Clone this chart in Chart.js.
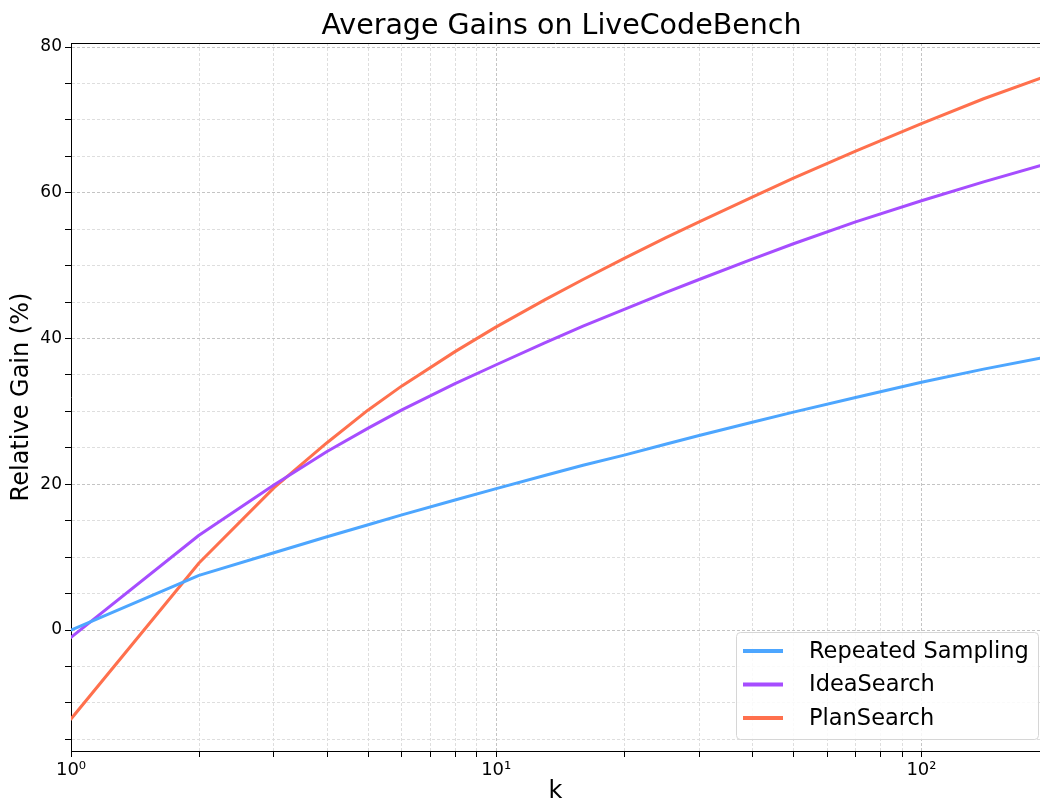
<!DOCTYPE html>
<html>
<head>
<meta charset="utf-8">
<script src="https://cdn.jsdelivr.net/npm/chart.js@4/dist/chart.umd.min.js"></script>
<style>
  html, body { margin: 0; padding: 0; background: #fff; }
  #wrap { width: 1040px; height: 806px; }
</style>
</head>
<body>
<div id="wrap"><canvas id="gains"></canvas></div>
<script>
// values (k on a log axis)
const kValues = [1, 2, 3, 4, 5, 6, 8, 10, 13, 16, 20, 25, 30, 40, 50, 70, 100, 140, 190];
const repeatedSampling = [0, 7.5, 10.6, 12.8, 14.45, 15.8, 17.85, 19.4, 21.2, 22.6, 24.0, 25.5, 26.7, 28.5, 29.9, 31.9, 34.0, 35.8, 37.3];
const ideaSearch = [-1.0, 13.0, 19.9, 24.5, 27.7, 30.2, 33.8, 36.4, 39.4, 41.7, 44.0, 46.3, 48.1, 50.9, 53.0, 56.0, 58.9, 61.5, 63.7];
const planSearch = [-12.2, 9.2, 19.5, 25.7, 30.2, 33.5, 38.2, 41.6, 45.3, 48.1, 51.0, 53.8, 56.0, 59.4, 62.0, 65.7, 69.5, 72.9, 75.7];

const seriesNames = ["Repeated Sampling", "IdeaSearch", "PlanSearch"];
const seriesColors = ["#4da6ff", "#a64dff", "#ff704d"];
const chartTitle = "Average Gains on LiveCodeBench";

// tick positions
const xTicks = [1, 2, 3, 4, 5, 6, 7, 8, 9, 10, 20, 30, 40, 50, 60, 70, 80, 90, 100];
const xLabels = { 1: "10\u2070", 10: "10\u00b9", 100: "10\u00b2" };
const yTicks = [-15, -10, -5, 0, 5, 10, 15, 20, 25, 30, 35, 40, 45, 50, 55, 60, 65, 70, 75, 80];

const font = "'DejaVu Sans', sans-serif";

function toPoints(vals) {
  return kValues.map((k, i) => ({ x: k, y: vals[i] }));
}

// title over the plot area, top spine and the legend box, matplotlib style
const framePlugin = {
  id: 'frame',
  afterDraw(chart) {
    const ctx = chart.ctx;
    const a = chart.chartArea;
    ctx.save();
    ctx.fillStyle = '#000';
    ctx.font = "28.5px " + font;
    ctx.textAlign = 'center';
    ctx.textBaseline = 'middle';
    // the original axes run a little past the cropped right edge
    ctx.fillText(chartTitle, (a.left + a.right) / 2 + 6, 27);

    ctx.strokeStyle = '#000';
    ctx.lineWidth = 1;
    ctx.beginPath();
    ctx.moveTo(a.left, a.top + 0.5);
    ctx.lineTo(a.right, a.top + 0.5);
    ctx.stroke();

    // legend
    const bw = 302, bh = 107;
    const bx = a.right - bw - 2, by = a.bottom - bh - 12;
    ctx.beginPath();
    ctx.roundRect(bx + 0.5, by + 0.5, bw, bh, 4);
    ctx.fillStyle = 'rgba(255,255,255,0.85)';
    ctx.fill();
    ctx.strokeStyle = '#d6d6d6';
    ctx.lineWidth = 1;
    ctx.stroke();
    ctx.font = "22.5px " + font;
    ctx.textAlign = 'left';
    chart.data.datasets.forEach((ds, i) => {
      const y = by + 19 + i * 33.5;
      ctx.strokeStyle = ds.borderColor;
      ctx.lineWidth = 4;
      ctx.beginPath();
      ctx.moveTo(bx + 7, y);
      ctx.lineTo(bx + 47, y);
      ctx.stroke();
      ctx.fillStyle = '#000';
      ctx.fillText(ds.label, bx + 73, y + 1);
    });
    ctx.restore();
  }
};

new Chart(document.getElementById("gains"), {
  type: 'line',
  data: {
    datasets: [
      { label: seriesNames[0], data: toPoints(repeatedSampling), borderColor: seriesColors[0] },
      { label: seriesNames[1], data: toPoints(ideaSearch), borderColor: seriesColors[1] },
      { label: seriesNames[2], data: toPoints(planSearch), borderColor: seriesColors[2] }
    ]
  },
  options: {
    responsive: true,
    maintainAspectRatio: false,
    animation: false,
    layout: { padding: { left: 0, right: 0, top: 43, bottom: 0 } },
    elements: {
      point: { radius: 0 },
      line: { borderWidth: 3, tension: 0, borderJoinStyle: 'round', borderCapStyle: 'round' }
    },
    plugins: {
      legend: { display: false },
      tooltip: { enabled: false },
      title: { display: false }
    },
    scales: {
      x: {
        type: 'logarithmic',
        min: 1,
        max: 190,
        afterBuildTicks: axis => { axis.ticks = xTicks.map(v => ({ value: v })); },
        afterFit: axis => { axis.height = 55; },
        ticks: {
          autoSkip: false,
          maxRotation: 0,
          color: '#000',
          font: { family: font, size: 18 },
          padding: 3,
          callback: v => xLabels[v] || ''
        },
        grid: {
          color: ctx => (xLabels[ctx.tick.value] ? '#c4c4c4' : '#dedede'),
          tickColor: '#000',
          tickLength: 6,
          lineWidth: 1
        },
        border: { color: '#000', width: 1, dash: [3, 2] },
        title: {
          display: true,
          text: 'k',
          color: '#000',
          font: { family: font, size: 24 },
          padding: { top: 0, bottom: 0 }
        }
      },
      y: {
        min: -16.6,
        max: 80.55,
        afterBuildTicks: axis => { axis.ticks = yTicks.map(v => ({ value: v })); },
        afterFit: axis => { axis.width = 71; },
        ticks: {
          color: '#000',
          font: { family: font, size: 17 },
          padding: 3,
          callback: v => (v % 20 === 0 ? String(v) : '')
        },
        grid: {
          color: ctx => (ctx.tick.value % 20 === 0 ? '#c4c4c4' : '#dedede'),
          tickColor: '#000',
          tickLength: 6,
          lineWidth: 1
        },
        border: { color: '#000', width: 1, dash: [3, 2] },
        title: {
          display: true,
          text: 'Relative Gain (%)',
          color: '#000',
          font: { family: font, size: 24 },
          padding: { top: 7, bottom: 0 }
        }
      }
    }
  },
  plugins: [framePlugin]
});
</script>
</body>
</html>
